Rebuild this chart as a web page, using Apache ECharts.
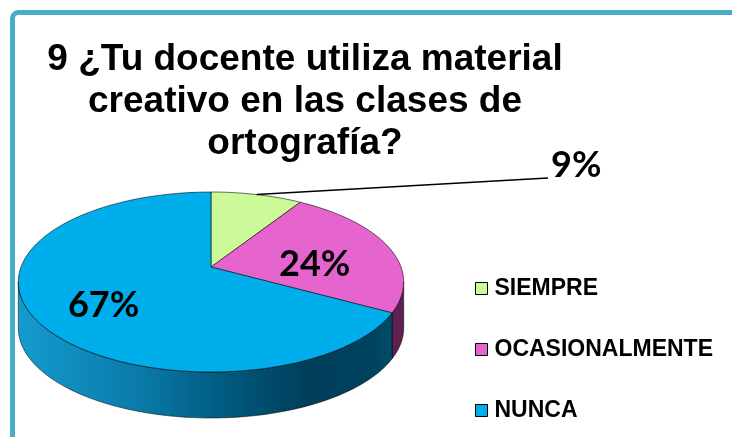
<!DOCTYPE html>
<html>
<head>
    <meta charset="utf-8">
    <title>Material creativo</title>
    <script src="https://cdn.jsdelivr.net/npm/echarts@6/dist/echarts.min.js"></script>
    <style>
        html, body { margin: 0; padding: 0; background: #fff; }
    </style>
</head>
<body>
<div id="main" style="width: 732px;height:437px;"></div>
<script type="text/javascript">
    // datos de la pregunta 9
    var categories = ['SIEMPRE', 'OCASIONALMENTE', 'NUNCA'];
    var values = [9, 24, 67];
    var percentLabels = ['9%', '24%', '67%'];
    var colors = ['#CCFA98', '#E564CE', '#00AEEC'];

    // geometria del pastel 3D (perspectiva aproximada)
    var CX = 211, CY = 267;      // centro proyectado
    var RX = 190, RY = 87.5;     // semiejes
    var P = 0.1667;              // factor de perspectiva
    var DEPTH = 46;              // grosor del pastel
    var OUT_LABEL_END = [548, 178];

    var total = values.reduce(function (a, b) { return a + b; }, 0);
    var starts = [], ends = [];
    var acc = 0;
    values.forEach(function (v) {
        starts.push(acc / total * 360);
        acc += v;
        ends.push(acc / total * 360);
    });

    // angulo en grados, sentido horario desde las 12
    function proj(deg, r, dy) {
        var t = deg * Math.PI / 180;
        var X = r * Math.sin(t), Y = r * Math.cos(t);
        var d = 1 + P * Y;
        return [CX + RX * X / d, CY - RY * Y / d + (dy || 0)];
    }

    function arcPoints(a0, a1, dy) {
        var pts = [];
        var n = Math.max(2, Math.ceil((a1 - a0) / 2));
        for (var i = 0; i <= n; i++) {
            pts.push(proj(a0 + (a1 - a0) * i / n, 1, dy));
        }
        return pts;
    }

    var silR = Math.acos(-P) * 180 / Math.PI;   // silueta derecha
    var silL = 360 - silR;                       // silueta izquierda

    var sideColors = [
        '#7E9A5C',
        '#5E2050',
        {
            type: 'linear', global: true, x: 18, y: 0, x2: 404, y2: 0,
            colorStops: [
                {offset: 0, color: '#159BCF'},
                {offset: 0.3, color: '#0A7CAB'},
                {offset: 0.6, color: '#005274'},
                {offset: 0.75, color: '#003E5A'},
                {offset: 0.92, color: '#00435F'},
                {offset: 1, color: '#00546F'}
            ]
        }
    ];

    function makeRender(idx) {
        return function (params, api) {
            var a0 = starts[idx], a1 = ends[idx];
            var children = [];
            // pared lateral visible
            var s = Math.max(a0, silR), e = Math.min(a1, silL);
            if (e > s) {
                var top = arcPoints(s, e, 0);
                var bottom = arcPoints(s, e, DEPTH).reverse();
                children.push({
                    type: 'polygon',
                    shape: {points: top.concat(bottom)},
                    style: {fill: sideColors[idx], stroke: 'rgba(0,0,0,0.75)', lineWidth: 0.7},
                    z2: 1
                });
            }
            // cara superior
            children.push({
                type: 'polygon',
                shape: {points: [proj(0, 0)].concat(arcPoints(a0, a1, 0))},
                style: {fill: api.visual('color'), stroke: 'rgba(0,0,0,0.8)', lineWidth: 0.7},
                z2: 5
            });
            // etiqueta
            var mid = (a0 + a1) / 2;
            var labelFont = 'bold 36px Lato, "Open Sans", sans-serif';
            if (api.value(0) / total < 0.15) {
                var rim = proj(mid, 1, 0);
                children.push({
                    type: 'polyline',
                    shape: {points: [rim, OUT_LABEL_END]},
                    style: {stroke: '#000', lineWidth: 1.6, fill: null},
                    z2: 10
                });
                children.push({
                    type: 'text',
                    style: {
                        x: OUT_LABEL_END[0] + 3, y: OUT_LABEL_END[1] + 5,
                        text: percentLabels[idx], font: labelFont, fill: '#000',
                        align: 'left', verticalAlign: 'bottom'
                    },
                    z2: 10
                });
            } else {
                var c = proj(mid, 0.6, 10);
                children.push({
                    type: 'text',
                    style: {
                        x: c[0] - 4, y: c[1],
                        text: percentLabels[idx], font: labelFont, fill: '#000',
                        align: 'center', verticalAlign: 'middle'
                    },
                    z2: 10
                });
            }
            return {type: 'group', children: children};
        };
    }

    var myChart = echarts.init(document.getElementById('main'));

    var series = categories.map(function (name, i) {
        return {
            name: name,
            type: 'custom',
            coordinateSystem: 'none',
            itemStyle: {color: colors[i]},
            renderItem: makeRender(i),
            data: [[values[i]]],
            silent: true,
            animation: false
        };
    });

    myChart.setOption({
        backgroundColor: '#fff',
        title: {
            text: '9 ¿Tu docente utiliza material\ncreativo en las clases de\nortografía?',
            left: 305,
            top: 39,
            textAlign: 'center',
            padding: 0,
            textStyle: {
                fontFamily: '"Liberation Sans", Arial, sans-serif',
                fontWeight: 'bold',
                fontSize: 37,
                lineHeight: 42,
                color: '#000'
            }
        },
        legend: {
            orient: 'vertical',
            left: 475,
            top: 277,
            padding: 0,
            itemWidth: 12,
            itemHeight: 12,
            itemGap: 38,
            icon: 'rect',
            itemStyle: {borderColor: '#000', borderWidth: 1},
            textStyle: {
                fontFamily: '"Liberation Sans", Arial, sans-serif',
                fontWeight: 'bold',
                fontSize: 23,
                color: '#000',
                padding: [0, 0, 0, 2]
            },
            data: categories
        },
        graphic: [{
            type: 'rect',
            shape: {x: 12.5, y: 12.5, width: 780, height: 520, r: 6},
            style: {fill: null, stroke: '#4BACC6', lineWidth: 5},
            silent: true
        }],
        series: series
    });
</script>
</body>
</html>
